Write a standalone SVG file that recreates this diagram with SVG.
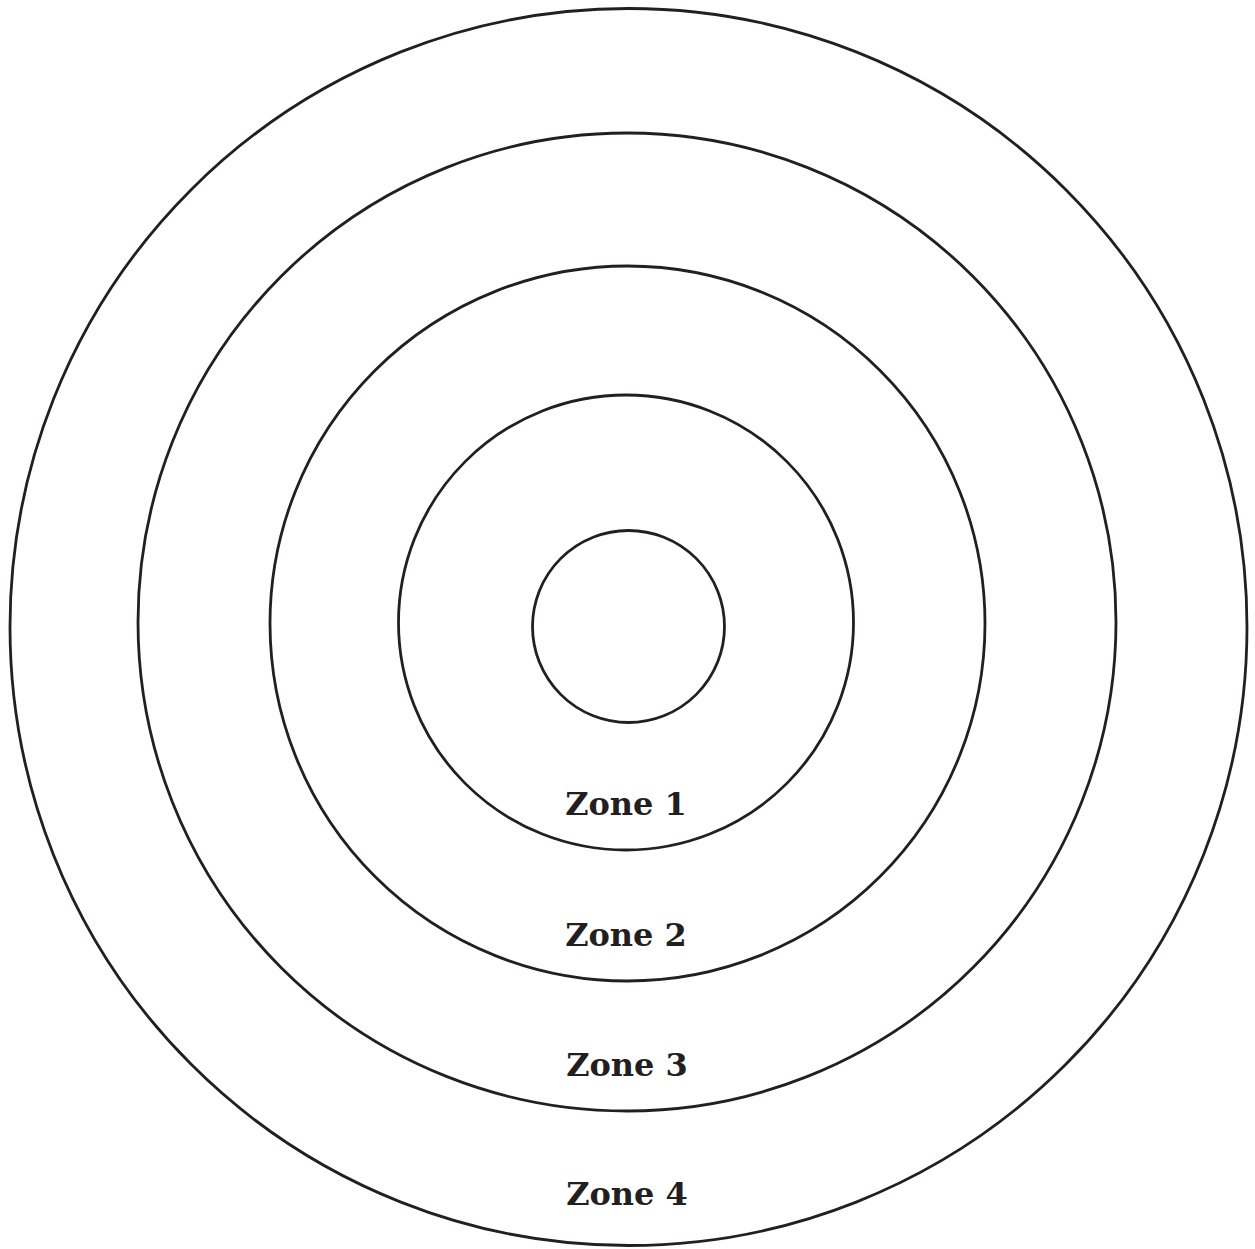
<svg xmlns="http://www.w3.org/2000/svg" width="1255" height="1249" viewBox="0 0 1255 1249">
<style>
.ring{fill:none;stroke:#231f20;stroke-width:2.8}
.lbl{font-family:"DejaVu Serif",serif;font-weight:bold;font-size:32px;fill:#231f20;text-anchor:middle}
</style>
<rect width="1255" height="1249" fill="#fff"/>
<g id="zone4"><circle class="ring" cx="628.5" cy="627" r="618.5"/><text class="lbl" x="627" y="1205">Zone 4</text></g>
<g id="zone3"><circle class="ring" cx="627" cy="622" r="489"/><text class="lbl" x="627" y="1076">Zone 3</text></g>
<g id="zone2"><circle class="ring" cx="627.5" cy="623.5" r="357.5"/><text class="lbl" x="626" y="946">Zone 2</text></g>
<g id="zone1"><circle class="ring" cx="626" cy="622.5" r="227.5"/><text class="lbl" x="626" y="815">Zone 1</text></g>
<g id="core"><circle class="ring" cx="628.5" cy="626.5" r="96"/></g>
</svg>
